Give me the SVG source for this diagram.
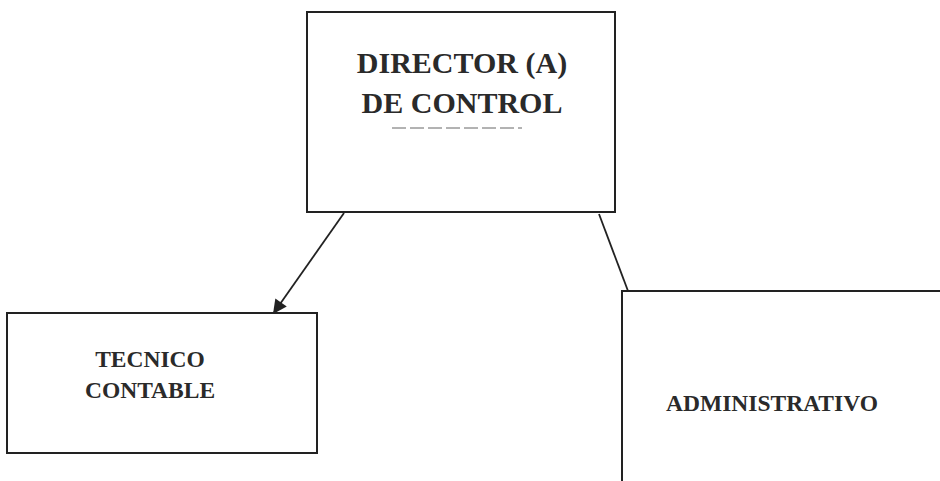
<svg xmlns="http://www.w3.org/2000/svg" width="940" height="481" viewBox="0 0 940 481">
<style>
.box{fill:#fff;stroke:#222;stroke-width:2}
.lbl{font-family:"Liberation Serif","Times New Roman",serif;font-weight:bold;fill:#2a2a2a;text-anchor:middle}
.con{stroke:#222;stroke-width:1.8;fill:none}
</style>
<defs>
<marker id="arr" viewBox="0 0 10 10" refX="10" refY="5" markerWidth="16" markerHeight="14" markerUnits="userSpaceOnUse" orient="auto">
<path d="M0,0 L10,5 L0,10 z" fill="#222"/>
</marker>
</defs>
<rect width="940" height="481" fill="#fff"/>
<g id="connectors">
<line class="con" x1="344" y1="213" x2="273" y2="314" marker-end="url(#arr)"/>
<line class="con" x1="599" y1="214" x2="628" y2="291"/>
</g>
<g id="director">
<rect class="box" x="307" y="12" width="308" height="200"/>
<text class="lbl" x="462" y="73" font-size="30">DIRECTOR (A)</text>
<text class="lbl" x="462" y="113" font-size="30">DE CONTROL</text>
<line x1="392" y1="128" x2="522" y2="128" stroke="#666" stroke-width="1" stroke-dasharray="14,4"/>
</g>
<g id="tecnico">
<rect class="box" x="7" y="313" width="310" height="140"/>
<text class="lbl" x="150" y="367" font-size="23.5">TECNICO</text>
<text class="lbl" x="150" y="398" font-size="23.5">CONTABLE</text>
</g>
<g id="administrativo">
<rect class="box" x="622" y="291" width="330" height="200"/>
<text class="lbl" x="772" y="411" font-size="23.5">ADMINISTRATIVO</text>
</g>
</svg>
